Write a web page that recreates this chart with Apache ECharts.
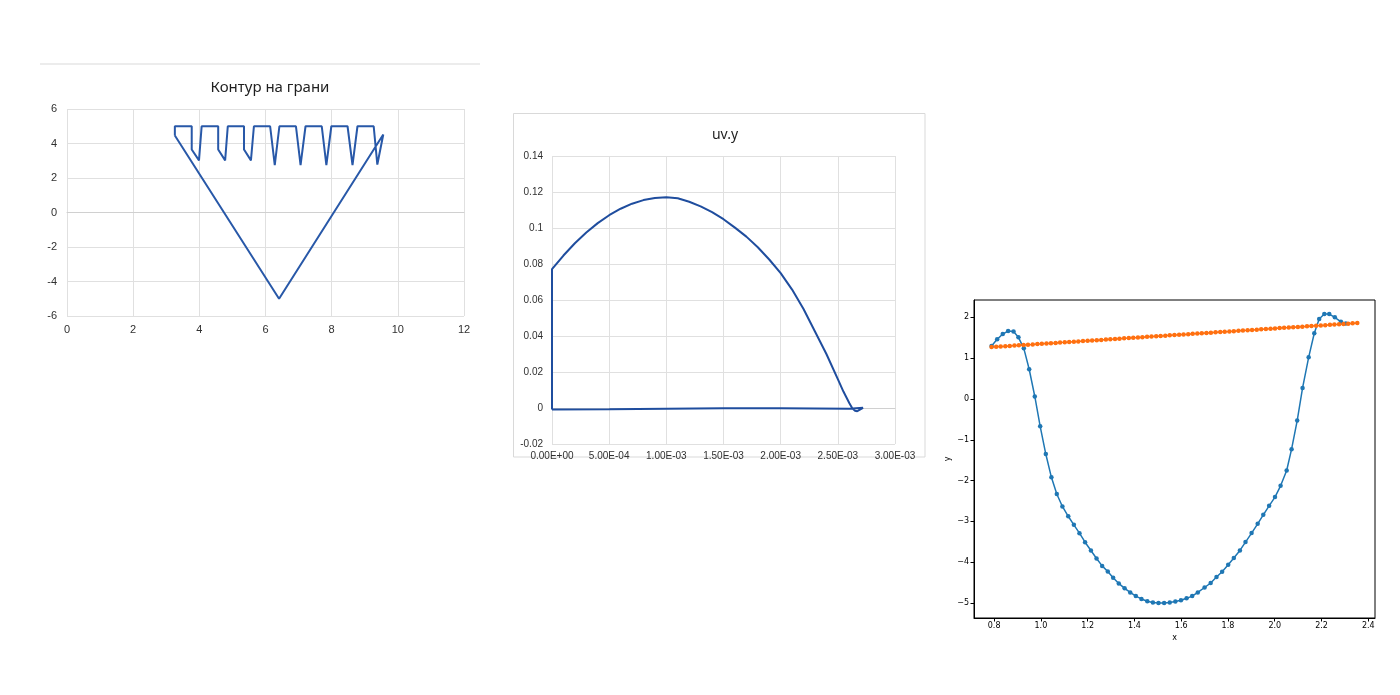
<!DOCTYPE html>
<html><head><meta charset="utf-8">
<script src="https://cdn.jsdelivr.net/npm/echarts@6/dist/echarts.min.js"></script>
<style>html,body{margin:0;padding:0;background:#fff}#c{width:1400px;height:695px}</style>
</head><body><div id="c"></div>
<script>
// ---- Chart 1: "Контур на грани" ----
const contourX = [3.26, 3.26, 3.77, 3.77, 3.99, 4.07, 4.57, 4.57, 4.78, 4.86, 5.35, 5.35, 5.56, 5.65, 6.14, 6.28, 6.42, 6.92, 7.06, 7.21, 7.70, 7.84, 7.99, 8.48, 8.63, 8.78, 9.27, 9.38, 9.56, 6.41, 3.26];
const contourY = [4.46, 5.00, 5.00, 3.65, 3.02, 5.00, 5.00, 3.65, 3.02, 5.00, 5.00, 3.65, 3.02, 5.00, 5.00, 2.74, 5.00, 5.00, 2.74, 5.00, 5.00, 2.74, 5.00, 5.00, 2.74, 5.00, 5.00, 2.78, 4.52, -5.00, 4.46];
const c1XTicks = {min: 0, max: 12, interval: 2};
const c1YTicks = {min: -6, max: 6, interval: 2};

// ---- Chart 2: "uv.y" ----
const uvX = [0, 0, 0.0001, 0.0002, 0.0003, 0.0004, 0.0005, 0.0006, 0.0007, 0.0008, 0.0009, 0.0010, 0.0011, 0.0012, 0.0013, 0.0014, 0.0015, 0.0016, 0.0017, 0.0018, 0.0019, 0.0020, 0.0021, 0.0022, 0.0023, 0.0024, 0.0025, 0.00255, 0.0026, 0.002625, 0.00265, 0.00267, 0.00272, 0.0026, 0.0020, 0.0015, 0.0010, 0.0005, 0];
const uvY = [-0.0008, 0.0771, 0.0847, 0.0915, 0.0975, 0.1027, 0.1071, 0.1107, 0.1135, 0.1155, 0.1167, 0.1171, 0.1165, 0.1146, 0.1120, 0.1088, 0.1049, 0.1002, 0.0952, 0.0893, 0.0825, 0.0749, 0.0658, 0.0550, 0.0425, 0.0300, 0.0160, 0.0090, 0.0028, 0.0000, -0.0015, -0.0018, 0.0001, -0.0004, -0.0002, -0.0002, -0.0004, -0.0007, -0.0008];

// ---- Chart 3: matplotlib x / y ----
const blueX = [0.789, 0.813, 0.837, 0.860, 0.883, 0.904, 0.927, 0.950, 0.974, 0.997, 1.021, 1.045, 1.068, 1.092, 1.117, 1.141, 1.165, 1.189, 1.214, 1.238, 1.262, 1.286, 1.309, 1.333, 1.358, 1.382, 1.406, 1.430, 1.455, 1.479, 1.503, 1.527, 1.551, 1.575, 1.599, 1.623, 1.647, 1.671, 1.700, 1.726, 1.751, 1.775, 1.801, 1.825, 1.851, 1.875, 1.901, 1.927, 1.951, 1.976, 2.001, 2.025, 2.051, 2.072, 2.096, 2.119, 2.145, 2.169, 2.190, 2.212, 2.233, 2.257, 2.283, 2.304];
const blueY = [1.298, 1.46, 1.59, 1.665, 1.65, 1.51, 1.24, 0.727, 0.06, -0.67, -1.35, -1.92, -2.33, -2.635, -2.875, -3.085, -3.289, -3.51, -3.714, -3.91, -4.09, -4.23, -4.38, -4.52, -4.64, -4.74, -4.83, -4.90, -4.955, -4.985, -5.0, -5.0, -4.99, -4.965, -4.93, -4.885, -4.83, -4.74, -4.62, -4.51, -4.363, -4.233, -4.062, -3.898, -3.712, -3.507, -3.287, -3.059, -2.839, -2.618, -2.405, -2.129, -1.754, -1.231, -0.53, 0.27, 1.02, 1.61, 1.96, 2.08, 2.08, 2.0, 1.89, 1.85];
const orangeX = [0.789, 0.809, 0.828, 0.848, 0.867, 0.887, 0.906, 0.926, 0.945, 0.965, 0.985, 1.004, 1.024, 1.043, 1.063, 1.082, 1.102, 1.121, 1.141, 1.160, 1.180, 1.200, 1.219, 1.239, 1.258, 1.278, 1.297, 1.317, 1.336, 1.356, 1.376, 1.395, 1.415, 1.434, 1.454, 1.473, 1.493, 1.512, 1.532, 1.551, 1.571, 1.591, 1.610, 1.630, 1.649, 1.669, 1.688, 1.708, 1.727, 1.747, 1.767, 1.786, 1.806, 1.825, 1.845, 1.864, 1.884, 1.903, 1.923, 1.942, 1.962, 1.982, 2.001, 2.021, 2.040, 2.060, 2.079, 2.099, 2.118, 2.138, 2.157, 2.177, 2.197, 2.216, 2.236, 2.255, 2.275, 2.294, 2.314, 2.333, 2.353];
const orangeY = [1.270, 1.277, 1.285, 1.292, 1.300, 1.307, 1.314, 1.322, 1.329, 1.336, 1.344, 1.351, 1.359, 1.366, 1.373, 1.381, 1.388, 1.395, 1.403, 1.410, 1.418, 1.425, 1.432, 1.440, 1.447, 1.454, 1.462, 1.469, 1.477, 1.484, 1.491, 1.499, 1.506, 1.513, 1.521, 1.528, 1.536, 1.543, 1.550, 1.558, 1.565, 1.572, 1.580, 1.587, 1.595, 1.602, 1.609, 1.617, 1.624, 1.631, 1.639, 1.646, 1.653, 1.661, 1.668, 1.676, 1.683, 1.690, 1.698, 1.705, 1.713, 1.720, 1.727, 1.735, 1.742, 1.749, 1.757, 1.764, 1.771, 1.779, 1.786, 1.794, 1.801, 1.808, 1.816, 1.823, 1.830, 1.838, 1.845, 1.853, 1.860];
const c3XTicks = [0.8, 1.0, 1.2, 1.4, 1.6, 1.8, 2.0, 2.2, 2.4];
const c3YTicks = [-5, -4, -3, -2, -1, 0, 1, 2];

const pairs = (xs, ys) => xs.map((x, i) => [x, ys[i]]);
const sciFmt = v => {
  if (Math.abs(v) < 1e-12) return '0.00E+00';
  let e = Math.floor(Math.log10(Math.abs(v)) + 1e-9);
  let m = v / Math.pow(10, e);
  if (Math.abs(m) >= 9.995) { m /= 10; e += 1; }
  return m.toFixed(2) + 'E' + (e < 0 ? '-' : '+') + String(Math.abs(e)).padStart(2, '0');
};

const xlGrid = {lineStyle: {color: '#e0e0e0', width: 1}};
const xlLabel = {color: '#303030', fontSize: 11, fontFamily: 'Liberation Sans'};
const mplLabel = {color: '#000', fontSize: 8, fontFamily: 'DejaVu Sans'};

const chart = echarts.init(document.getElementById('c'));
chart.setOption({
  animation: false,
  backgroundColor: '#fff',
  title: [
    {text: 'Контур на грани', left: 265, top: 75, textAlign: 'center',
     textStyle: {fontSize: 15, fontWeight: 'normal', color: '#1f1f1f', fontFamily: 'Noto Sans'}},
    {text: 'uv.y', left: 720, top: 123, textAlign: 'center',
     textStyle: {fontSize: 14, fontWeight: 'normal', color: '#1f1f1f', fontFamily: 'Noto Sans'}}
  ],
  graphic: [
    {type: 'line', shape: {x1: 40, y1: 64, x2: 480, y2: 64}, style: {stroke: '#e6e6e6', lineWidth: 1.5}, silent: true},
    {type: 'rect', shape: {x: 513.5, y: 113.5, width: 411.5, height: 343.5}, style: {stroke: '#d9d9d9', fill: null, lineWidth: 1}, silent: true}
  ],
  grid: [
    {left: 67, top: 109, width: 397, height: 207},
    {left: 552, top: 156, width: 343, height: 288},
    {left: 974, top: 300, width: 401, height: 318, show: true, borderColor: '#000', borderWidth: 1, backgroundColor: 'transparent'}
  ],
  xAxis: [
    {type: 'value', gridIndex: 0, min: c1XTicks.min, max: c1XTicks.max, interval: c1XTicks.interval,
     axisLine: {onZero: true, lineStyle: {color: '#d0d0d0'}}, axisTick: {show: false},
     axisLabel: Object.assign({margin: 8}, xlLabel), splitLine: xlGrid},
    {type: 'value', gridIndex: 1, min: 0, max: 0.003, interval: 0.0005,
     axisLine: {onZero: true, lineStyle: {color: '#d0d0d0'}}, axisTick: {show: false},
     axisLabel: Object.assign({margin: 7, formatter: sciFmt}, xlLabel, {fontSize: 10}), splitLine: xlGrid},
    {type: 'value', gridIndex: 2, min: 0.714, max: 2.4287,
     name: 'x', nameLocation: 'middle', nameGap: 16, nameTextStyle: mplLabel,
     axisLine: {onZero: false, lineStyle: {color: '#000', width: 1}},
     axisTick: {show: true, length: 3.5, customValues: c3XTicks, lineStyle: {color: '#000'}},
     axisLabel: Object.assign({margin: 4, customValues: c3XTicks, formatter: v => v.toFixed(1)}, mplLabel),
     splitLine: {show: false}}
  ],
  yAxis: [
    {type: 'value', gridIndex: 0, min: c1YTicks.min, max: c1YTicks.max, interval: c1YTicks.interval,
     axisLine: {show: false}, axisTick: {show: false},
     axisLabel: Object.assign({margin: 10}, xlLabel), splitLine: xlGrid},
    {type: 'value', gridIndex: 1, min: -0.02, max: 0.14, interval: 0.02,
     axisLine: {show: false}, axisTick: {show: false},
     axisLabel: Object.assign({margin: 9}, xlLabel, {fontSize: 10}), splitLine: xlGrid},
    {type: 'value', gridIndex: 2, min: -5.367, max: 2.424,
     name: 'y', nameLocation: 'middle', nameGap: 22, nameTextStyle: mplLabel,
     axisLine: {onZero: false, lineStyle: {color: '#000', width: 1}},
     axisTick: {show: true, length: 3.5, customValues: c3YTicks, lineStyle: {color: '#000'}},
     axisLabel: Object.assign({margin: 5, customValues: c3YTicks, formatter: v => String(Math.round(v)).replace('-', '\u2212')}, mplLabel),
     splitLine: {show: false}}
  ],
  series: [
    {type: 'line', xAxisIndex: 0, yAxisIndex: 0, data: pairs(contourX, contourY), showSymbol: false,
     lineStyle: {color: '#2858a8', width: 2}, itemStyle: {color: '#2858a8'}},
    {type: 'line', xAxisIndex: 1, yAxisIndex: 1, data: pairs(uvX, uvY), showSymbol: false,
     lineStyle: {color: '#1f4d9e', width: 2}, itemStyle: {color: '#1f4d9e'}},
    {type: 'line', xAxisIndex: 2, yAxisIndex: 2, data: pairs(blueX, blueY), symbol: 'circle', symbolSize: 4.5, showSymbol: true,
     lineStyle: {color: '#1f77b4', width: 1.5}, itemStyle: {color: '#1f77b4'}},
    {type: 'line', xAxisIndex: 2, yAxisIndex: 2, data: pairs(orangeX, orangeY), symbol: 'circle', symbolSize: 4.5, showSymbol: true,
     lineStyle: {color: '#ff7010', width: 1.5}, itemStyle: {color: '#ff7010'}}
  ]
});
</script>
</body></html>
